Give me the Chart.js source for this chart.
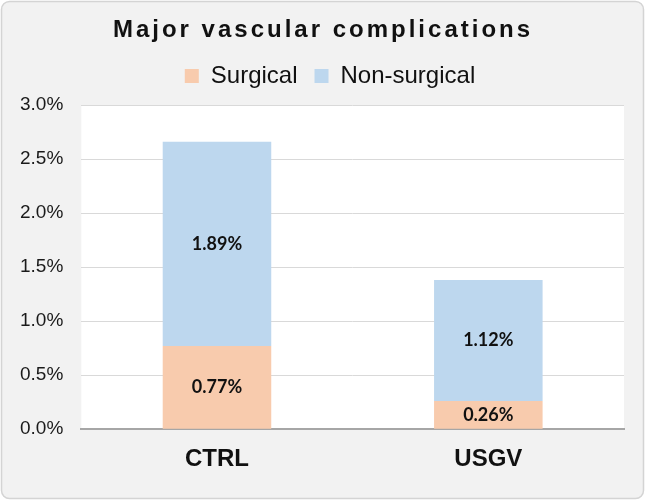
<!DOCTYPE html>
<html>
<head>
<meta charset="utf-8">
<script src="https://cdn.jsdelivr.net/npm/chart.js@4.4.1/dist/chart.umd.min.js"></script>
<style>
  html, body { margin: 0; padding: 0; background: #ffffff; }
  #wrap { width: 645px; height: 500px; }
</style>
</head>
<body>
<div id="wrap"><canvas id="chart" width="645" height="500"></canvas></div>
<script>
var groups = ['CTRL', 'USGV'];
var surgical = [0.77, 0.26];
var nonSurgical = [1.89, 1.12];
var yTicks = [0, 0.5, 1.0, 1.5, 2.0, 2.5, 3.0];
var chartTitle = 'Major vascular complications';

var font = "'Liberation Sans', Arial, sans-serif";

// background panel, white plot area, title
var framePlugin = {
    id: 'frame',
    beforeLayout: function (chart) {
        var lg = chart.legend;
        if (lg && !lg._patched) {
            var fit = lg.fit;
            lg.fit = function () {
                fit.call(this);
                this.height += 7;
            };
            lg._patched = true;
        }
    },
    afterLayout: function (chart) {
        var lg = chart.legend;
        lg.left += 17;
        lg.right += 17;
    },
    beforeDraw: function (chart) {
        var c = chart.ctx, a = chart.chartArea;
        c.save();
        c.beginPath();
        c.roundRect(1.5, 1.5, chart.width - 3, chart.height - 3, 8);
        c.fillStyle = '#f2f2f2';
        c.fill();
        c.strokeStyle = '#d4d4d4';
        c.lineWidth = 1.5;
        c.stroke();
        c.fillStyle = '#ffffff';
        c.fillRect(a.left, a.top, a.right - a.left, a.bottom - a.top);
        c.restore();
    },
    afterDraw: function (chart) {
        var c = chart.ctx;
        c.save();
        c.font = 'bold 24px ' + font;
        c.letterSpacing = '3px';
        c.fillStyle = '#111111';
        c.textAlign = 'center';
        c.textBaseline = 'middle';
        c.fillText(chartTitle, 323, 30);
        c.restore();
    }
};

// values written in the middle of each segment
var valueLabels = {
    id: 'valueLabels',
    afterDatasetsDraw: function (chart) {
        var c = chart.ctx;
        c.save();
        c.font = 'bold 18px Lato, sans-serif';
        c.fillStyle = '#111111';
        c.textAlign = 'center';
        c.textBaseline = 'middle';
        chart.data.datasets.forEach(function (ds, i) {
            chart.getDatasetMeta(i).data.forEach(function (bar, j) {
                c.fillText(ds.data[j].toFixed(2) + '%', bar.x, (bar.y + bar.base) / 2);
            });
        });
        c.restore();
    }
};

var ctx = document.getElementById('chart');
var myChart = new Chart(ctx, {
    type: 'bar',
    data: {
        labels: groups,
        datasets: [{
            label: 'Surgical',
            data: surgical,
            backgroundColor: '#f8cbad',
            borderWidth: 0,
            barPercentage: 0.4,
            categoryPercentage: 1
        }, {
            label: 'Non-surgical',
            data: nonSurgical,
            backgroundColor: '#bdd7ee',
            borderWidth: 0,
            barPercentage: 0.4,
            categoryPercentage: 1
        }]
    },
    options: {
        responsive: false,
        animation: false,
        layout: {
            padding: { top: 47, left: 2, right: 21, bottom: 10 }
        },
        scales: {
            x: {
                stacked: true,
                grid: { display: false, drawTicks: false },
                border: { display: true, color: '#a6a6a6', width: 2 },
                ticks: {
                    padding: 16,
                    color: '#111111',
                    font: { family: font, size: 24, weight: 'bold' }
                }
            },
            y: {
                stacked: true,
                min: 0,
                max: 3,
                afterBuildTicks: function (axis) {
                    axis.ticks = yTicks.map(function (v) { return { value: v }; });
                },
                grid: { color: '#d9d9d9', lineWidth: 1, drawTicks: false },
                border: { display: false },
                ticks: {
                    padding: 18,
                    color: '#1a1a1a',
                    font: { family: font, size: 19 },
                    callback: function (v) { return Number(v).toFixed(1) + '%'; }
                }
            }
        },
        plugins: {
            legend: {
                position: 'top',
                labels: {
                    boxWidth: 14,
                    boxHeight: 14,
                    padding: 17,
                    color: '#111111',
                    font: { family: font, size: 24 }
                }
            },
            tooltip: { enabled: false }
        }
    },
    plugins: [framePlugin, valueLabels]
});
</script>
</body>
</html>
